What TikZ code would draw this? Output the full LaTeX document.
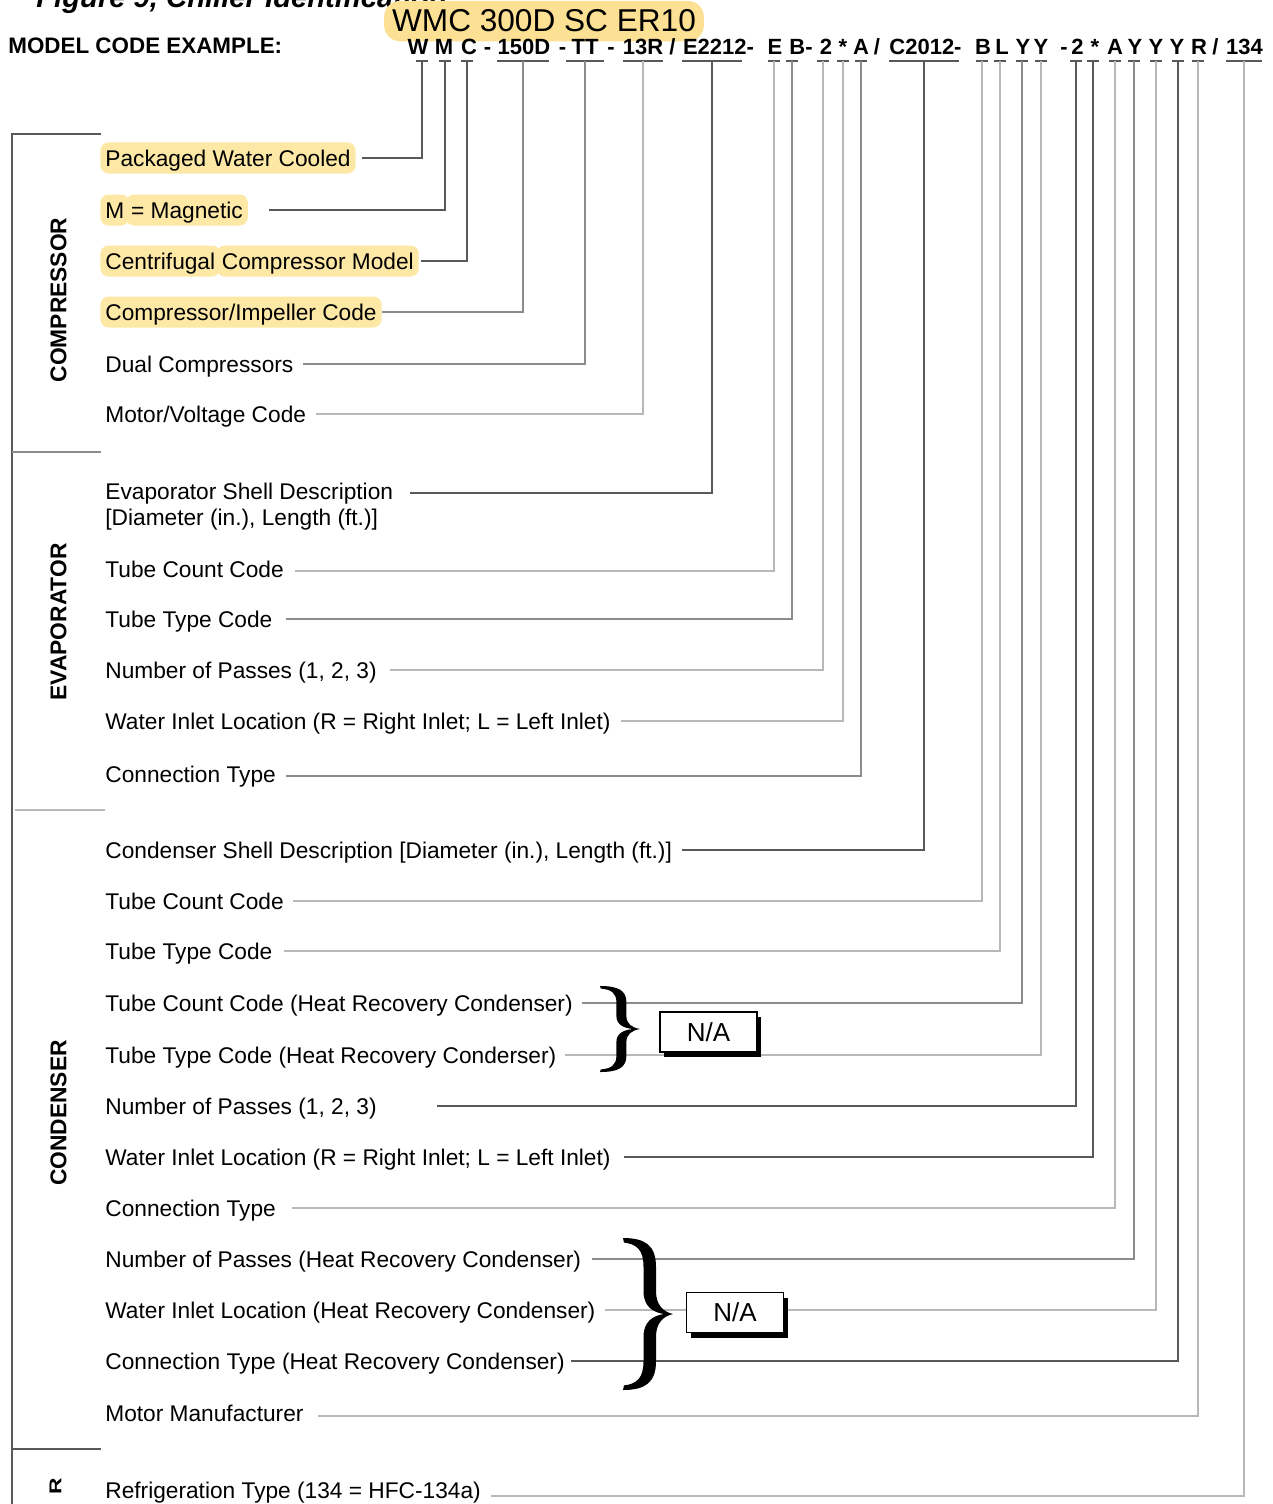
\documentclass[tikz,border=0pt]{standalone}
\usepackage{fontspec}
\setmainfont{Liberation Sans}
\usetikzlibrary{shadows}
\definecolor{hlyellow}{RGB}{254,232,166}
\definecolor{hlorange}{RGB}{252,224,148}
\def\bigbrace(#1)(#2:#3){\fill[shift={(#1)},xscale=#2,yscale=#3] (0,1) .. controls (0.45,1) and (0.66,0.9) .. (0.66,0.62) -- (0.66,0.3) .. controls (0.66,0.12) and (0.8,0.03) .. (1,0) .. controls (0.8,-0.03) and (0.66,-0.12) .. (0.66,-0.3) -- (0.66,-0.62) .. controls (0.66,-0.9) and (0.45,-1) .. (0,-1) -- (0.02,-0.94) .. controls (0.28,-0.92) and (0.41,-0.84) .. (0.41,-0.62) -- (0.41,-0.3) .. controls (0.41,-0.1) and (0.6,-0.02) .. (0.82,0) .. controls (0.6,0.02) and (0.41,0.1) .. (0.41,0.3) -- (0.41,0.62) .. controls (0.41,0.84) and (0.28,0.92) .. (0.02,0.94) -- cycle;}
\tikzset{
	lbl/.style={anchor=west, font=\fontsize{11.35}{13}\selectfont, text height=8pt, text depth=0pt, inner xsep=0pt, inner ysep=2pt},
	hl/.style={lbl, fill=hlyellow, rounded corners=4pt, inner xsep=2.5pt, inner ysep=3.75pt},
	sect/.style={font=\fontsize{11.4}{13}\selectfont\bfseries, rotate=90, inner sep=0pt},
	codechr/.style={anchor=base, font=\fontsize{11}{13}\selectfont\bfseries, inner sep=0pt},
	uline/.style={line width=0.6pt, color=black!65},
	dark/.style={line width=0.6pt, color=black!65},
	mid/.style={line width=0.6pt, color=black!45},
	light/.style={line width=0.6pt, color=black!28},
	nabox/.style={draw=black, line width=0.8pt, fill=white, minimum width=48.5pt, minimum height=20pt, font=\fontsize{13}{15}\selectfont, drop shadow={shadow xshift=2pt, shadow yshift=-2.5pt, fill=black, opacity=1}},
}
\begin{document}
\begin{tikzpicture}[x=0.5pt, y=-0.5pt]
		%%%%% START %%%%%
		\useasboundingbox (0,0) rectangle (1273,1504);
		\clip (0,0) rectangle (1273,1504);
		
		\node[font=\fontsize{14.6}{16}\selectfont\bfseries\itshape, anchor=base west, inner sep=0pt] (fig) at (36,8) {Figure 9, Chiller Identification};
		\node[font=\fontsize{11.2}{13}\selectfont\bfseries, anchor=base west, inner sep=0pt] (mce) at (8,53.5) {MODEL CODE EXAMPLE:};
		\node[fill=hlorange, rounded corners=8pt, anchor=base, inner xsep=4pt, inner ysep=4.5pt, font=\fontsize{15.8}{17}\selectfont] (wmc) at (544,32) {WMC 300D SC ER10};
		
		\node[codechr] (cW) at (418,55) {W};
		\node[codechr] (cM) at (444,55) {M};
		\node[codechr] (cC) at (469,55) {C};
		\node[codechr] (d1) at (487.5,55) {-};
		\node[codechr] (c150) at (524,55) {150D};
		\node[codechr] (d2) at (562.5,55) {-};
		\node[codechr] (cTT) at (585,55) {TT};
		\node[codechr] (d3) at (611,55) {-};
		\node[codechr] (c13R) at (643,55) {13R};
		\node[codechr] (s1) at (672.5,55) {/};
		\node[codechr] (cE2212) at (718.5,55) {E2212-};
		\node[codechr] (cE) at (775,55) {E};
		\node[codechr] (cB) at (801,55) {B-};
		\node[codechr] (c2a) at (826,55) {2};
		\node[codechr] (cSa) at (843,55) {*};
		\node[codechr] (cAa) at (861,55) {A};
		\node[codechr] (s2) at (877,55) {/};
		\node[codechr] (cC2012) at (925.5,55) {C2012-};
		\node[codechr] (cBb) at (983,55) {B};
		\node[codechr] (cL) at (1002,55) {L};
		\node[codechr] (cY1) at (1023,55) {Y};
		\node[codechr] (cY2) at (1041,55) {Y};
		\node[codechr] (d4) at (1064,55) {-};
		\node[codechr] (c2b) at (1077.5,55) {2};
		\node[codechr] (cSb) at (1095,55) {*};
		\node[codechr] (cAb) at (1115,55) {A};
		\node[codechr] (cY3) at (1135,55) {Y};
		\node[codechr] (cY4) at (1156,55) {Y};
		\node[codechr] (cY5) at (1177,55) {Y};
		\node[codechr] (cR) at (1199,55) {R};
		\node[codechr] (s3) at (1215.5,55) {/};
		\node[codechr] (c134) at (1244.5,55) {134};
		
		\draw[uline] (416,61) -- coordinate (kW) (428,61);
		\draw[uline] (439,61) -- coordinate (kM) (451,61);
		\draw[uline] (461,61) -- coordinate (kC) (473,61);
		\draw[uline] (497,61) -- coordinate (k150) (549,61);
		\draw[uline] (566,61) -- coordinate (kTT) (604,61);
		\draw[uline] (623,61) -- coordinate (k13R) (663,61);
		\draw[uline] (682,61) -- coordinate (kE2212) (742,61);
		\draw[uline] (768,61) -- coordinate (kE) (780,61);
		\draw[uline] (786,61) -- coordinate (kB) (798,61);
		\draw[uline] (817,61) -- coordinate (k2a) (829,61);
		\draw[uline] (837,61) -- coordinate (kSa) (849,61);
		\draw[uline] (855,61) -- coordinate (kAa) (867,61);
		\draw[uline] (889,61) -- coordinate (kC2012) (959,61);
		\draw[uline] (976,61) -- coordinate (kBb) (988,61);
		\draw[uline] (994,61) -- coordinate (kL) (1006,61);
		\draw[uline] (1016,61) -- coordinate (kY1) (1028,61);
		\draw[uline] (1035,61) -- coordinate (kY2) (1047,61);
		\draw[uline] (1070,61) -- coordinate (k2b) (1082,61);
		\draw[uline] (1087,61) -- coordinate (kSb) (1099,61);
		\draw[uline] (1109,61) -- coordinate (kAb) (1121,61);
		\draw[uline] (1128,61) -- coordinate (kY3) (1140,61);
		\draw[uline] (1150,61) -- coordinate (kY4) (1162,61);
		\draw[uline] (1172,61) -- coordinate (kY5) (1184,61);
		\draw[uline] (1192,61) -- coordinate (kR) (1204,61);
		\draw[uline] (1226,61) -- coordinate (k134) (1262,61);
		
		\draw[dark] (101,134) -- (12,134) -- (12,1504);
		\draw[mid] (12,452) -- (101,452);
		\draw[light, line width=1pt] (15,810) -- (105,810);
		\draw[dark] (12,1449) -- (101,1449);
		
		\node[sect] (scomp) at (58.5,300) {COMPRESSOR};
		\node[sect] (sevap) at (58.5,622) {EVAPORATOR};
		\node[sect] (scond) at (58.5,1113) {CONDENSER};
		\node[sect] (srefr) at (55.5,1486) {\scalebox{1}[0.75]{R}};
		
		\node[hl] (pwc) at (100,158) {Packaged Water Cooled};
		\node[hl] (mag1) at (100,210) {M};
		\node[hl] (mag2) at ([xshift=-2pt]mag1.east) {= Magnetic};
		\node[hl] (cen1) at (100,261) {Centrifugal};
		\node[hl] (cen2) at ([xshift=-2pt]cen1.east) {Compressor Model};
		\node[hl] (imp) at (100,312) {Compressor/Impeller Code};
		\node[lbl] (dual) at (105,364) {Dual Compressors};
		\node[lbl] (motv) at (105,414) {Motor/Voltage Code};
		
		\node[lbl] (evsh) at (105,491) {Evaporator Shell Description};
		\node[lbl] (evsh2) at (105,517) {[Diameter (in.), Length (ft.)]};
		\node[lbl] (etc) at (105,569) {Tube Count Code};
		\node[lbl] (ett) at (105,619) {Tube Type Code};
		\node[lbl] (enp) at (105,670) {Number of Passes (1, 2, 3)};
		\node[lbl] (ewi) at (105,721) {Water Inlet Location (R = Right Inlet; L = Left Inlet)};
		\node[lbl] (ect) at (105,774) {Connection Type};
		
		\node[lbl] (csh) at (105,850) {Condenser Shell Description [Diameter (in.), Length (ft.)]};
		\node[lbl] (ctc) at (105,901) {Tube Count Code};
		\node[lbl] (ctt) at (105,951) {Tube Type Code};
		\node[lbl] (ctch) at (105,1003) {Tube Count Code (Heat Recovery Condenser)};
		\node[lbl] (ctth) at (105,1055) {Tube Type Code (Heat Recovery Conderser)};
		\node[lbl] (cnp) at (105,1106) {Number of Passes (1, 2, 3)};
		\node[lbl] (cwi) at (105,1157) {Water Inlet Location (R = Right Inlet; L = Left Inlet)};
		\node[lbl] (cct) at (105,1208) {Connection Type};
		\node[lbl] (cnph) at (105,1259) {Number of Passes (Heat Recovery Condenser)};
		\node[lbl] (cwih) at (105,1310) {Water Inlet Location (Heat Recovery Condenser)};
		\node[lbl] (ccth) at (105,1361) {Connection Type (Heat Recovery Condenser)};
		\node[lbl] (mman) at (105,1413) {Motor Manufacturer};
		
		\node[lbl] (rtype) at (105,1490) {Refrigeration Type (134 = HFC-134a)};
		
		\draw[dark] ([xshift=3pt]pwc.east) -| (kW);
		\draw[dark] ([xshift=10.5pt]mag2.east) -| (kM);
		\draw[dark] ([xshift=1pt]cen2.east) -| (kC);
		\draw[mid] (imp.east) -| (k150);
		\draw[mid] ([xshift=4.5pt]dual.east) -| (kTT);
		\draw[light] ([xshift=5pt]motv.east) -| (k13R);
		
		\draw[dark] ([xshift=8.5pt,yshift=-1pt]evsh.east) -| (kE2212);
		\draw[light] ([xshift=5.5pt,yshift=-1pt]etc.east) -| (kE);
		\draw[mid] ([xshift=6.5pt]ett.east) -| (kB);
		\draw[light] ([xshift=6.5pt]enp.east) -| (k2a);
		\draw[light] ([xshift=5pt]ewi.east) -| (kSa);
		\draw[mid] ([xshift=5pt,yshift=-1pt]ect.east) -| (kAa);
		
		\draw[dark] ([xshift=5pt]csh.east) -| (kC2012);
		\draw[light] ([xshift=4.5pt]ctc.east) -| (kBb);
		\draw[light] ([xshift=5.5pt]ctt.east) -| (kL);
		\draw[mid] ([xshift=4.5pt]ctch.east) -| (kY1);
		\draw[light] ([xshift=4pt]ctth.east) -| (kY2);
		\draw[dark] ([xshift=30pt]cnp.east) -| (k2b);
		\draw[dark] ([xshift=6.5pt]cwi.east) -| (kSb);
		\draw[light] ([xshift=8pt]cct.east) -| (kAb);
		\draw[mid] ([xshift=5.5pt]cnph.east) -| (kY3);
		\draw[light] ([xshift=4.5pt]cwih.east) -| (kY4);
		\draw[dark] ([xshift=3pt]ccth.east) -| (kY5);
		\draw[light] ([xshift=7pt,yshift=-1.5pt]mman.east) -| (kR);
		\draw[light] ([xshift=5pt,yshift=-3pt]rtype.east) -| (k134);
		
		\bigbrace(600,1029)(40:43)
		\node[nabox] (na1) at (708.5,1032) {N/A};
		\bigbrace(623,1314)(50:76)
		\node[nabox] (na2) at (735,1312.5) {N/A};
		
		%%%%% END %%%%%
\end{tikzpicture}
\end{document}
